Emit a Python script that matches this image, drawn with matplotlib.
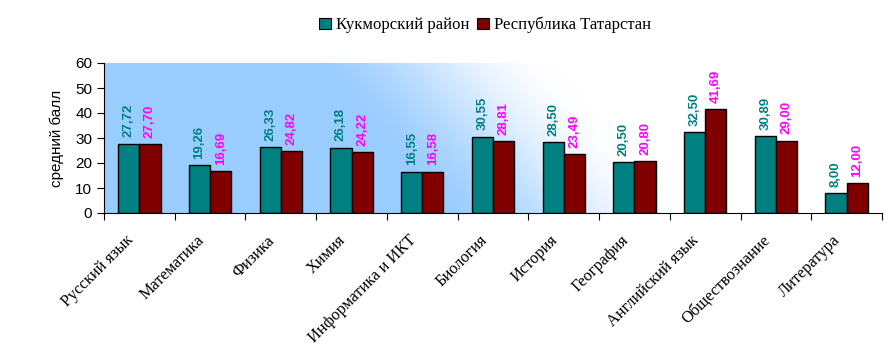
import numpy as np
import matplotlib
matplotlib.use("Agg")
import matplotlib.pyplot as plt
from matplotlib.patches import Patch

subjects = ["Русский язык", "Математика", "Физика", "Химия", "Информатика и ИКТ",
            "Биология", "История", "География", "Английский язык",
            "Обществознание", "Литература"]
kukmor = [27.72, 19.26, 26.33, 26.18, 16.55, 30.55, 28.50, 20.50, 32.50, 30.89, 8.00]
tatarstan = [27.70, 16.69, 24.82, 24.22, 16.58, 28.81, 23.49, 20.80, 41.69, 29.00, 12.00]
series_names = ["Кукморский район", "Республика Татарстан"]

TEAL = "#008080"
DRED = "#800000"
SANS = ["Liberation Sans", "DejaVu Sans"]
SERIF = ["Liberation Serif", "DejaVu Serif"]

fig = plt.figure(figsize=(8.95, 3.64), dpi=100)
ax = fig.add_axes([104 / 895, 151 / 364, 778 / 895, 150 / 364])

# diagonal blue -> white gradient background
W, H = 778, 150
px = np.arange(W)[None, :]
py = np.arange(H)[:, None]          # 0 = top
s = 104 + px - 0.9 * py
t = np.clip((s - 300) / (555 - 300), 0, 1)
t = t * t * (3 - 2 * t)
blue = np.array([0x99, 0xcc, 0xff]) / 255
img = blue[None, None, :] * (1 - t[..., None]) + np.ones(3)[None, None, :] * t[..., None]
ax.imshow(img, extent=[0, 1, 0, 1], transform=ax.transAxes, aspect="auto",
          zorder=0, interpolation="bilinear")

x = np.arange(len(subjects))
w = 0.3
ax.bar(x - w / 2, kukmor, w, color=TEAL, edgecolor="black", lw=1, zorder=2)
ax.bar(x + w / 2, tatarstan, w, color=DRED, edgecolor="black", lw=1, zorder=2)

for xi, v in zip(x, kukmor):
    ax.text(xi - w / 2, v + 2.5, f"{v:.2f}".replace(".", ","), rotation=90,
            ha="center", va="bottom", color=TEAL, fontsize=9.5,
            fontweight="bold", family=SANS, zorder=3)
for xi, v in zip(x, tatarstan):
    ax.text(xi + w / 2, v + 2.5, f"{v:.2f}".replace(".", ","), rotation=90,
            ha="center", va="bottom", color="#ff00ff", fontsize=9.5,
            fontweight="bold", family=SANS, zorder=3)

ax.set_xlim(-0.5, len(subjects) - 0.5)
ax.set_ylim(0, 60)
ax.set_yticks(range(0, 61, 10))
ax.set_xticks(np.arange(len(subjects) + 1) - 0.5)
ax.set_xticklabels([])
# category labels, nudged left like the original
ax.set_xticks(x - 0.2, minor=True)
ax.set_xticklabels(subjects, minor=True, rotation=45, ha="right",
                   rotation_mode="anchor", family=SERIF, fontsize=11.8)
ax.tick_params(axis="x", which="minor", length=0, pad=14)
ax.tick_params(axis="x", which="major", length=5, direction="out")
ax.tick_params(axis="y", length=5, direction="out", labelsize=11)
for lab in ax.get_yticklabels():
    lab.set_family(SANS)
ax.set_ylabel("средний балл", family=SANS, fontsize=11, labelpad=8)

for sp in ["top", "right"]:
    ax.spines[sp].set_visible(False)

handles = [Patch(facecolor=TEAL, edgecolor="black", lw=0.8),
           Patch(facecolor=DRED, edgecolor="black", lw=0.8)]
fig.legend(handles, series_names, loc="center", bbox_to_anchor=(485 / 895, 1 - 25 / 364),
           ncol=2, frameon=False, prop={"family": SERIF, "size": 12},
           handlelength=0.7, handleheight=0.7, handletextpad=0.3, columnspacing=0.5)

fig.savefig("out.png", dpi=100)
